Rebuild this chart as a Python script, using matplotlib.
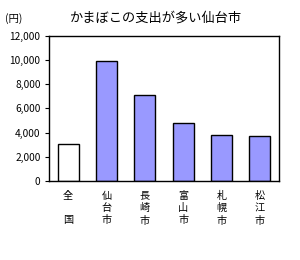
import matplotlib
matplotlib.use("Agg")
import matplotlib.pyplot as plt
from matplotlib.ticker import FuncFormatter

plt.rcParams['font.family'] = ['Noto Sans CJK JP', 'DejaVu Sans']

# data
cities = ["全\n\n国", "仙\n台\n市", "長\n崎\n市", "富\n山\n市", "札\n幌\n市", "松\n江\n市"]
spending = [3050, 9930, 7120, 4800, 3780, 3720]
colors = ["white", "#9999ff", "#9999ff", "#9999ff", "#9999ff", "#9999ff"]

fig = plt.figure(figsize=(3.0, 2.6), dpi=100)
ax = fig.add_axes([0.163, 0.304, 0.767, 0.558])

x = range(len(cities))
ax.bar(x, spending, width=0.55, color=colors, edgecolor="black", linewidth=1.0)

ax.set_xlim(-0.5, len(cities) - 0.5)
ax.set_ylim(0, 12000)
ax.set_yticks(range(0, 12001, 2000))
ax.yaxis.set_major_formatter(FuncFormatter(lambda v, p: f"{int(v):,}"))
ax.tick_params(axis="y", labelsize=7.3, length=3, width=0.8, pad=3)
ax.set_xticks(list(x))
ax.set_xticklabels(cities, fontsize=7.3, linespacing=1.3)
ax.tick_params(axis="x", length=0, pad=7)

for s in ax.spines.values():
    s.set_linewidth(1.0)

fig.text(0.017, 0.93, "(円)", fontsize=7.5, va="center", ha="left")
fig.text(0.52, 0.93, "かまぼこの支出が多い仙台市", fontsize=9.5, va="center", ha="center")

fig.savefig("out.png", dpi=100)
